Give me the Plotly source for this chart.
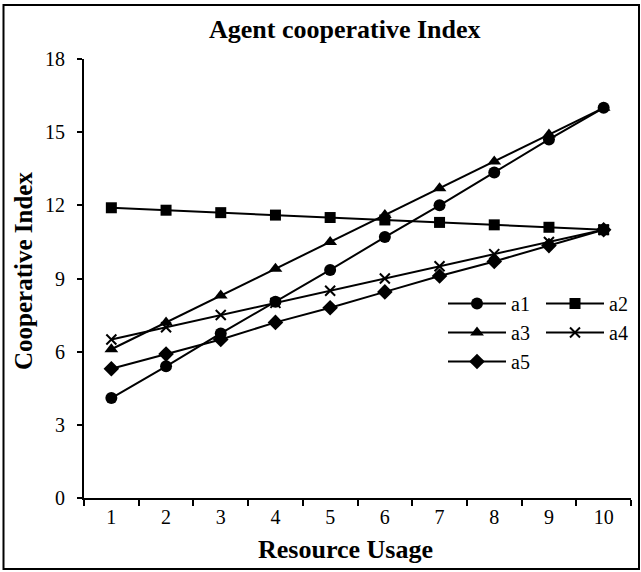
import plotly.graph_objects as go

categories = ["1", "2", "3", "4", "5", "6", "7", "8", "9", "10"]
a1 = [4.1, 5.4, 6.75, 8.05, 9.35, 10.7, 12.0, 13.35, 14.7, 16.0]
a2 = [11.9, 11.8, 11.7, 11.6, 11.5, 11.4, 11.3, 11.2, 11.1, 11.0]
a3 = [6.1, 7.2, 8.3, 9.4, 10.5, 11.6, 12.7, 13.8, 14.9, 16.0]
a4 = [6.5, 7.0, 7.5, 8.0, 8.5, 9.0, 9.5, 10.0, 10.5, 11.0]
a5 = [5.3, 5.9, 6.5, 7.2, 7.8, 8.45, 9.1, 9.7, 10.35, 11.0]

series = [
    ("a1", a1, "circle", 12, "legend"),
    ("a2", a2, "square", 11, "legend2"),
    ("a3", a3, "triangle-up", 12, "legend"),
    ("a4", a4, "x-thin", 10, "legend2"),
    ("a5", a5, "diamond", 12, "legend"),
]

FONT = "Liberation Serif, Times New Roman, serif"

fig = go.Figure()
for name, vals, sym, sz, lg in series:
    fig.add_trace(go.Scatter(
        x=categories, y=vals, name=name, mode="lines+markers",
        legend=lg, legendgroup=name,
        line=dict(color="black", width=2),
        marker=dict(symbol=sym, size=sz, color="black",
                    line=dict(color="black", width=2 if sym == "x-thin" else 0)),
    ))

W, H = 641, 572
L, R, T, B = 84, 10, 59, 74
pw, ph = W - L - R, H - T - B
Y0 = H - B

leg_common = dict(orientation="v", xanchor="left", yanchor="top",
                  itemwidth=58, tracegroupgap=0,
                  font=dict(size=20, family=FONT), bgcolor="rgba(0,0,0,0)")

fig.update_layout(
    width=W, height=H,
    margin=dict(l=L, r=R, t=T, b=B, autoexpand=False),
    paper_bgcolor="white", plot_bgcolor="white",
    font=dict(family=FONT, color="black", size=20),
    showlegend=True,
    legend=dict(x=(443 - L) / pw, y=(Y0 - 284) / ph, **leg_common),
    legend2=dict(x=(541 - L) / pw, y=(Y0 - 284) / ph, **leg_common),
    annotations=[
        dict(text="<b>Agent cooperative Index</b>", xref="paper", yref="paper",
             x=(345 - L) / pw, y=(Y0 - 29) / ph, xanchor="center", yanchor="middle",
             showarrow=False, font=dict(size=26, family=FONT)),
        dict(text="<b>Resource Usage</b>", xref="paper", yref="paper",
             x=(345 - L) / pw, y=(Y0 - 549) / ph, xanchor="center", yanchor="middle",
             showarrow=False, font=dict(size=26, family=FONT)),
        dict(text="<b>Cooperative Index</b>", xref="paper", yref="paper",
             x=(23 - L) / pw, y=(Y0 - 271) / ph, xanchor="center", yanchor="middle",
             showarrow=False, textangle=-90, font=dict(size=25, family=FONT)),
    ],
    shapes=[
        dict(type="rect", xref="paper", yref="paper",
             x0=(3.5 - L) / pw, x1=(639 - L) / pw,
             y0=(Y0 - 569) / ph, y1=(Y0 - 5) / ph,
             line=dict(color="black", width=2), fillcolor="rgba(0,0,0,0)"),
    ],
)

fig.update_xaxes(
    type="category", range=[-0.5, 9.5], showgrid=False, zeroline=False,
    showline=True, linecolor="black", linewidth=2,
    ticks="outside", tickson="boundaries", ticklen=6, tickwidth=2, tickcolor="black",
    tickfont=dict(size=20, family=FONT),
)
fig.update_yaxes(
    range=[0, 18], dtick=3, tick0=0, showgrid=False, zeroline=False,
    showline=True, linecolor="black", linewidth=2,
    ticks="outside", ticklen=5, tickwidth=2, tickcolor="black",
    ticklabelstandoff=8,
    tickfont=dict(size=20, family=FONT),
)

fig.write_html("out.html", config={"displayModeBar": False},
               post_script="document.body.style.margin='0px';document.body.style.overflow='hidden';")
